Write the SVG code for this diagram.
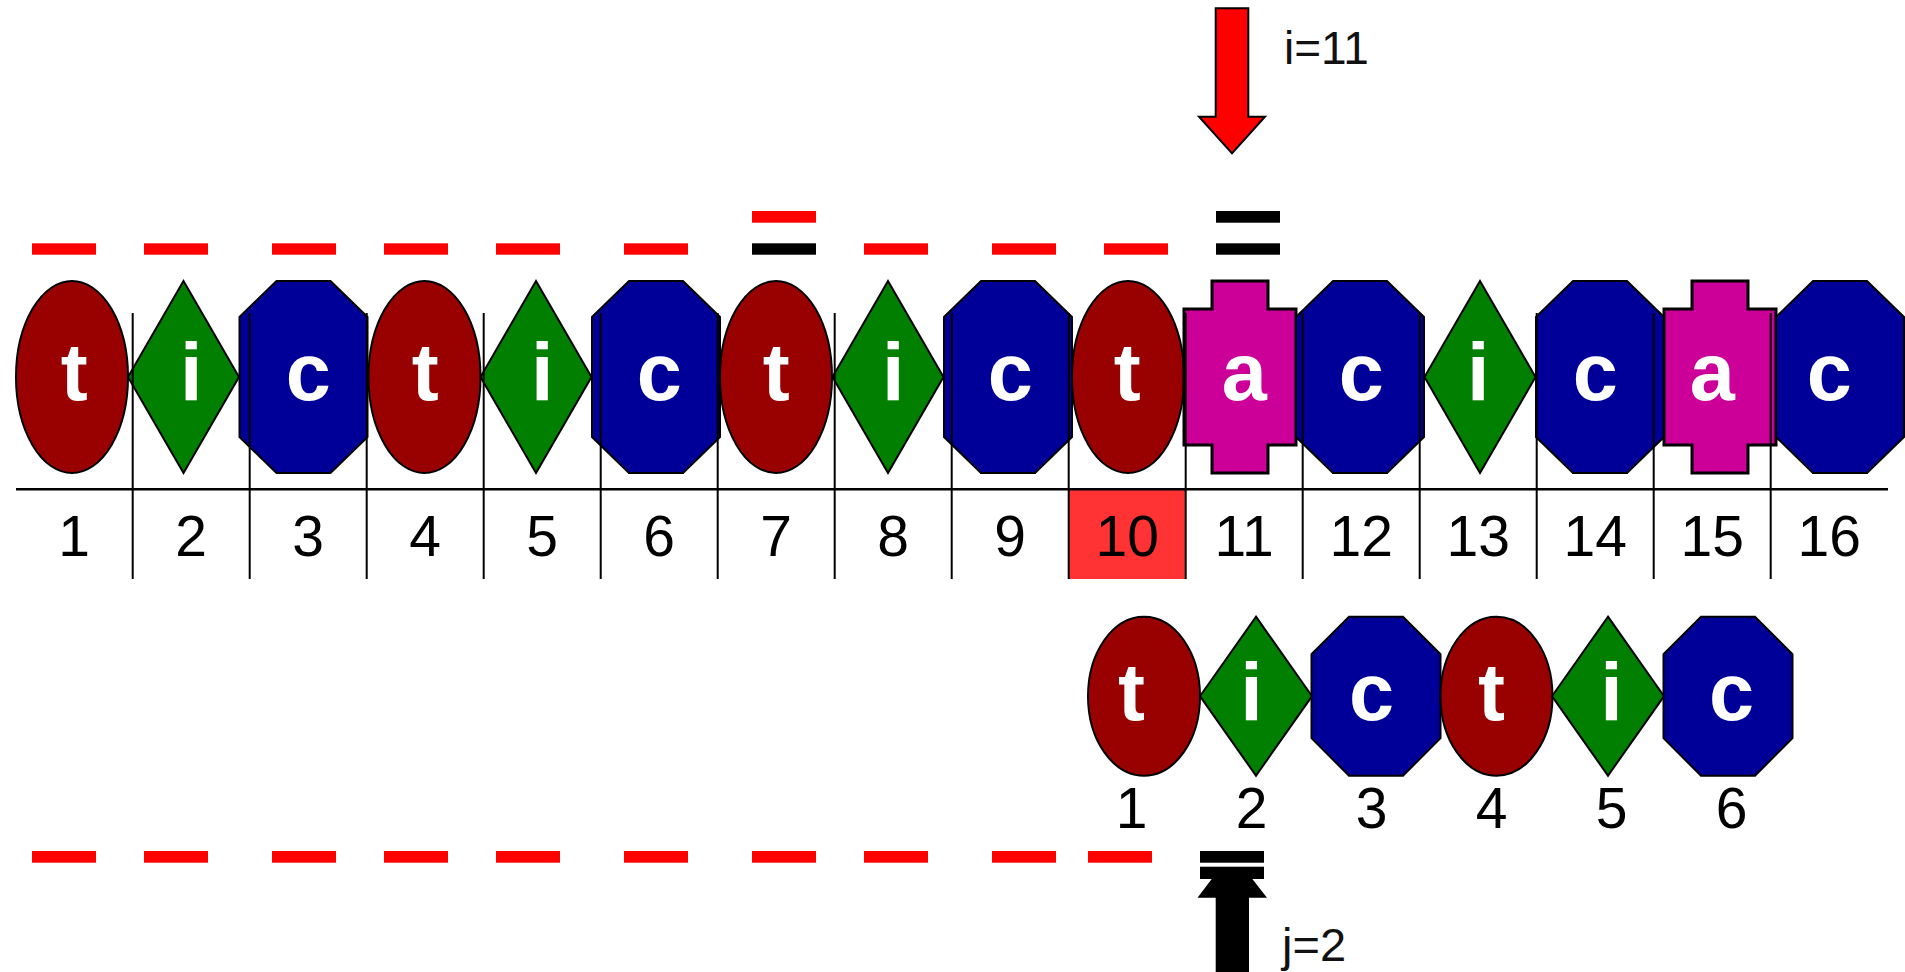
<svg xmlns="http://www.w3.org/2000/svg" width="1905" height="972" viewBox="0 0 1905 972">
  <style>
    .ell{fill:#990000;stroke:#000;stroke-width:2}
    .dia{fill:#007F00;stroke:#000;stroke-width:2}
    .oct{fill:#000099;stroke:#000;stroke-width:2}
    .mag{fill:#CC0099;stroke:#000;stroke-width:3}
    .glyph{font-family:"Liberation Sans",Arial,sans-serif;font-weight:bold;font-size:81px;fill:#fff;text-anchor:middle}
    .num{font-family:"Liberation Sans",Arial,sans-serif;font-size:57px;fill:#000;text-anchor:middle}
    .lbl{font-family:"Liberation Sans",Arial,sans-serif;fill:#111}
    .grid{stroke:#000;stroke-width:2;fill:none}
    .red{fill:#FF0000}
    .blk{fill:#000}
  </style>
  <defs>
    <!-- text shapes, centred on the origin -->
    <ellipse id="ellT" class="ell" cx="0" cy="0" rx="56" ry="96"/>
    <polygon id="diaT" class="dia" points="0,-96 55.5,0 0,96 -55.5,0"/>
    <polygon id="octT" class="oct" points="-27,-96 27,-96 64,-60 64,60 27,96 -27,96 -64,60 -64,-60"/>
    <polygon id="magT" class="mag" points="-28,-96 28,-96 28,-68 56,-68 56,68 28,68 28,96 -28,96 -28,68 -56,68 -56,-68 -28,-68"/>
    <!-- pattern shapes, centred on the origin -->
    <ellipse id="ellP" class="ell" cx="0" cy="0" rx="56" ry="79.5"/>
    <polygon id="diaP" class="dia" points="0,-79.5 56,0 0,79.5 -56,0"/>
    <polygon id="octP" class="oct" points="-27,-79.5 27,-79.5 64.5,-42 64.5,42 27,79.5 -27,79.5 -64.5,42 -64.5,-42"/>
  </defs>

  <!-- highlighted index cell -->
  <rect x="1068.7" y="489" width="117" height="90" fill="#FF3333"/>

  <!-- text row -->
  <g id="text">
    <g id="t1"><use href="#ellT" x="72" y="377"/><text class="glyph" x="74.2" y="400">t</text></g>
    <g id="t2"><use href="#diaT" x="183.5" y="377"/><text class="glyph" x="191.2" y="400">i</text></g>
    <g id="t3"><use href="#octT" x="303.5" y="377"/><text class="glyph" x="308.2" y="400">c</text></g>
    <g id="t4"><use href="#ellT" x="424.5" y="377"/><text class="glyph" x="425.2" y="400">t</text></g>
    <g id="t5"><use href="#diaT" x="536" y="377"/><text class="glyph" x="542.2" y="400">i</text></g>
    <g id="t6"><use href="#octT" x="656" y="377"/><text class="glyph" x="659.2" y="400">c</text></g>
    <g id="t7"><use href="#ellT" x="776" y="377"/><text class="glyph" x="776.2" y="400">t</text></g>
    <g id="t8"><use href="#diaT" x="888" y="377"/><text class="glyph" x="893.2" y="400">i</text></g>
    <g id="t9"><use href="#octT" x="1008" y="377"/><text class="glyph" x="1010.2" y="400">c</text></g>
    <g id="t10"><use href="#ellT" x="1128" y="377"/><text class="glyph" x="1127.2" y="400">t</text></g>
    <g id="t11"><use href="#magT" x="1240" y="377"/><text class="glyph" x="1244.2" y="400">a</text></g>
    <g id="t12"><use href="#octT" x="1360" y="377"/><text class="glyph" x="1361.2" y="400">c</text></g>
    <g id="t13"><use href="#diaT" x="1480" y="377"/><text class="glyph" x="1478.2" y="400">i</text></g>
    <g id="t14"><use href="#octT" x="1600" y="377"/><text class="glyph" x="1595.2" y="400">c</text></g>
    <g id="t15"><use href="#magT" x="1720" y="377"/><text class="glyph" x="1712.2" y="400">a</text></g>
    <g id="t16"><use href="#octT" x="1840" y="377"/><text class="glyph" x="1829.2" y="400">c</text></g>
  </g>

  <!-- index ruler -->
  <g id="ruler" class="grid">
    <line x1="16" y1="489.3" x2="1888" y2="489.3" stroke-width="2.5"/>
    <line x1="132.7" y1="313" x2="132.7" y2="579"/>
    <line x1="249.7" y1="313" x2="249.7" y2="579"/>
    <line x1="366.7" y1="313" x2="366.7" y2="579"/>
    <line x1="483.7" y1="313" x2="483.7" y2="579"/>
    <line x1="600.7" y1="313" x2="600.7" y2="579"/>
    <line x1="717.7" y1="313" x2="717.7" y2="579"/>
    <line x1="834.7" y1="313" x2="834.7" y2="579"/>
    <line x1="951.7" y1="313" x2="951.7" y2="579"/>
    <line x1="1068.7" y1="313" x2="1068.7" y2="579"/>
    <line x1="1185.7" y1="313" x2="1185.7" y2="579"/>
    <line x1="1302.7" y1="313" x2="1302.7" y2="579"/>
    <line x1="1419.7" y1="313" x2="1419.7" y2="579"/>
    <line x1="1536.7" y1="313" x2="1536.7" y2="579"/>
    <line x1="1653.7" y1="313" x2="1653.7" y2="579"/>
    <line x1="1770.7" y1="313" x2="1770.7" y2="579"/>
  </g>
  <g id="indices">
    <text class="num" x="74.2" y="556">1</text>
    <text class="num" x="191.2" y="556">2</text>
    <text class="num" x="308.2" y="556">3</text>
    <text class="num" x="425.2" y="556">4</text>
    <text class="num" x="542.2" y="556">5</text>
    <text class="num" x="659.2" y="556">6</text>
    <text class="num" x="776.2" y="556">7</text>
    <text class="num" x="893.2" y="556">8</text>
    <text class="num" x="1010.2" y="556">9</text>
    <text class="num" x="1127.2" y="556">10</text>
    <text class="num" x="1244.2" y="556">11</text>
    <text class="num" x="1361.2" y="556">12</text>
    <text class="num" x="1478.2" y="556">13</text>
    <text class="num" x="1595.2" y="556">14</text>
    <text class="num" x="1712.2" y="556">15</text>
    <text class="num" x="1829.2" y="556">16</text>
  </g>

  <!-- pattern row -->
  <g id="pattern">
    <g id="p1"><use href="#ellP" x="1144" y="696.2"/><text class="glyph" x="1131.5" y="720">t</text></g>
    <g id="p2"><use href="#diaP" x="1256" y="696.2"/><text class="glyph" x="1251.5" y="720">i</text></g>
    <g id="p3"><use href="#octP" x="1376" y="696.2"/><text class="glyph" x="1371.5" y="720">c</text></g>
    <g id="p4"><use href="#ellP" x="1496.5" y="696.2"/><text class="glyph" x="1491.5" y="720">t</text></g>
    <g id="p5"><use href="#diaP" x="1608" y="696.2"/><text class="glyph" x="1611.5" y="720">i</text></g>
    <g id="p6"><use href="#octP" x="1728" y="696.2"/><text class="glyph" x="1731.5" y="720">c</text></g>
  </g>
  <g id="pattern-indices">
    <text class="num" x="1131.5" y="828">1</text>
    <text class="num" x="1251.5" y="828">2</text>
    <text class="num" x="1371.5" y="828">3</text>
    <text class="num" x="1491.5" y="828">4</text>
    <text class="num" x="1611.5" y="828">5</text>
    <text class="num" x="1731.5" y="828">6</text>
  </g>

  <!-- pointers -->
  <g id="pointers">
    <g id="ptr-i">
      <polygon points="1215.7,8.3 1248.3,8.3 1248.3,116.7 1265,116.7 1232,153.3 1199,116.7 1215.7,116.7" fill="#FF0000" stroke="#000" stroke-width="2"/>
      <text class="lbl" x="1284" y="64" font-size="46">i=11</text>
    </g>
    <g id="ptr-j">
      <polygon points="1215.7,972 1249,972 1249,897.7 1267,897.7 1250,876 1214,876 1197.5,897.7 1215.7,897.7" fill="#000"/>
      <text class="lbl" x="1282" y="961" font-size="47">j=2</text>
    </g>
  </g>

  <!-- comparison marks -->
  <g id="marks">
    <rect class="red" x="752" y="211" width="64" height="11.7"/>
    <rect class="blk" x="1216" y="211" width="64" height="11.7"/>

    <rect class="red" x="32" y="243.3" width="64" height="11.4"/>
    <rect class="red" x="144" y="243.3" width="64" height="11.4"/>
    <rect class="red" x="272" y="243.3" width="64" height="11.4"/>
    <rect class="red" x="384" y="243.3" width="64" height="11.4"/>
    <rect class="red" x="496" y="243.3" width="64" height="11.4"/>
    <rect class="red" x="624" y="243.3" width="64" height="11.4"/>
    <rect class="blk" x="752" y="243.3" width="64" height="11.4"/>
    <rect class="red" x="864" y="243.3" width="64" height="11.4"/>
    <rect class="red" x="992" y="243.3" width="64" height="11.4"/>
    <rect class="red" x="1104" y="243.3" width="64" height="11.4"/>
    <rect class="blk" x="1216" y="243.3" width="64" height="11.4"/>

    <rect class="red" x="32" y="851" width="64" height="11.7"/>
    <rect class="red" x="144" y="851" width="64" height="11.7"/>
    <rect class="red" x="272" y="851" width="64" height="11.7"/>
    <rect class="red" x="384" y="851" width="64" height="11.7"/>
    <rect class="red" x="496" y="851" width="64" height="11.7"/>
    <rect class="red" x="624" y="851" width="64" height="11.7"/>
    <rect class="red" x="752" y="851" width="64" height="11.7"/>
    <rect class="red" x="864" y="851" width="64" height="11.7"/>
    <rect class="red" x="992" y="851" width="64" height="11.7"/>
    <rect class="red" x="1088" y="851" width="64" height="11.7"/>
    <rect class="blk" x="1200" y="851" width="64" height="11.7"/>
    <rect class="blk" x="1200" y="866.7" width="64" height="12.3"/>
  </g>
</svg>
